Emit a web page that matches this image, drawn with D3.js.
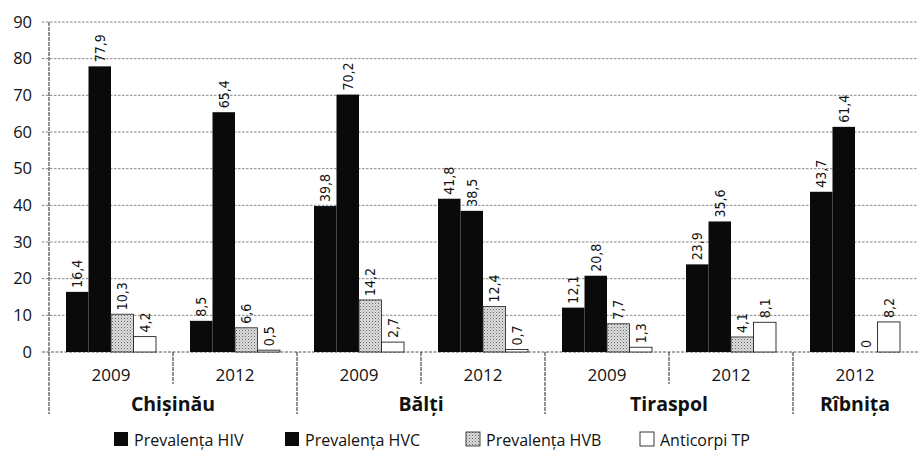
<!DOCTYPE html>
<html>
<head>
<meta charset="utf-8">
<script src="https://cdn.jsdelivr.net/npm/d3@7/dist/d3.min.js"></script>
<style>
  body { margin: 0; background: #fff; }
  svg { display: block; }
</style>
</head>
<body>
<svg id="chart" width="918" height="457"></svg>
<script>
// ---- Data ----
const groupRegion = ["Chișinău", "Chișinău", "Bălți", "Bălți", "Tiraspol", "Tiraspol", "Rîbnița"];
const groupYear = ["2009", "2012", "2009", "2012", "2009", "2012", "2012"];
const regions = ["Chișinău", "Bălți", "Tiraspol", "Rîbnița"];
const seriesNames = ["Prevalența HIV", "Prevalența HVC", "Prevalența HVB", "Anticorpi TP"];
const hiv = [16.4, 8.5, 39.8, 41.8, 12.1, 23.9, 43.7];
const hvc = [77.9, 65.4, 70.2, 38.5, 20.8, 35.6, 61.4];
const hvb = [10.3, 6.6, 14.2, 12.4, 7.7, 4.1, 0];
const tp = [4.2, 0.5, 2.7, 0.7, 1.3, 8.1, 8.2];
const yTicks = [0, 10, 20, 30, 40, 50, 60, 70, 80, 90];

const seriesValues = [hiv, hvc, hvb, tp];

// ---- Layout ----
const svg = d3.select("#chart");
const mLeft = 49, mRight = 917, mTop = 22, mBottom = 352;

const y = d3.scaleLinear().domain([0, 90]).range([mBottom, mTop]);
const gIdx = d3.range(groupYear.length);
const x0 = d3.scaleBand().domain(gIdx).range([mLeft, mRight]).padding(0);
const x1 = d3.scaleBand().domain(d3.range(seriesNames.length)).range([17, x0.bandwidth() - 17]).padding(0);

const defs = svg.append("defs");
const pat = defs.append("pattern").attr("id", "hvbPat")
  .attr("patternUnits", "userSpaceOnUse").attr("width", 3).attr("height", 3);
pat.append("rect").attr("width", 3).attr("height", 3).attr("fill", "#dcdcdc");
pat.append("rect").attr("x", 0).attr("y", 0).attr("width", 1).attr("height", 1).attr("fill", "#666");
pat.append("rect").attr("x", 1.5).attr("y", 1.5).attr("width", 1).attr("height", 1).attr("fill", "#999");

const fills = ["#0a0a0a", "#0a0a0a", "url(#hvbPat)", "#ffffff"];
const strokes = ["#0a0a0a", "#0a0a0a", "#333", "#222"];

const sansFont = "'Open Sans', 'Noto Sans', sans-serif";
const narrowFont = "'Liberation Sans Narrow', 'DejaVu Sans Condensed', 'Roboto', sans-serif";

// ---- Grid ----
svg.append("g").selectAll("line").data(yTicks.filter(d => d > 0)).join("line")
  .attr("x1", 42).attr("x2", 918)
  .attr("y1", d => y(d)).attr("y2", d => y(d))
  .attr("stroke", "#777").attr("stroke-width", 0.9).attr("stroke-dasharray", "2.5,1.5");

// ---- Y axis ----
const yAxis = d3.axisLeft(y).tickValues(yTicks).tickSize(0).tickPadding(17).tickFormat(d3.format("d"));
const yg = svg.append("g").attr("transform", `translate(${mLeft},0)`).call(yAxis);
yg.select(".domain").remove();
yg.selectAll("text").attr("font-family", sansFont).attr("font-size", 16.5).attr("fill", "#111");

// left axis line (extended down)
svg.append("line").attr("x1", mLeft).attr("x2", mLeft).attr("y1", mTop).attr("y2", 414)
  .attr("stroke", "#222").attr("stroke-width", 1).attr("stroke-dasharray", "4,1");

// baseline
svg.append("line").attr("x1", 42).attr("x2", 918).attr("y1", mBottom).attr("y2", mBottom)
  .attr("stroke", "#555").attr("stroke-width", 1).attr("stroke-dasharray", "3,1.5");

// ---- Bars ----
const groups = svg.append("g").selectAll("g").data(gIdx).join("g")
  .attr("transform", i => `translate(${x0(i)},0)`);

groups.selectAll("rect").data(i => seriesValues.map((s, k) => ({ k, v: s[i] }))).join("rect")
  .attr("x", d => x1(d.k))
  .attr("width", x1.bandwidth())
  .attr("y", d => y(d.v))
  .attr("height", d => y(0) - y(d.v))
  .attr("fill", d => fills[d.k])
  .attr("stroke", d => strokes[d.k])
  .attr("stroke-width", d => d.k >= 2 ? 0.9 : 0);

const fmt = v => v === 0 ? "0" : d3.format(".1f")(v).replace(".", ",");
groups.selectAll("text").data(i => seriesValues.map((s, k) => ({ k, v: s[i] }))).join("text")
  .attr("transform", d => `translate(${x1(d.k) + x1.bandwidth() / 2 + 5},${y(d.v) - 4}) rotate(-90)`)
  .attr("font-family", narrowFont).attr("font-size", 14).attr("fill", "#111")
  .text(d => fmt(d.v));

// ---- X axis labels ----
svg.append("g").selectAll("text").data(gIdx).join("text")
  .attr("x", i => x0(i) + x0.bandwidth() / 2).attr("y", 381)
  .attr("text-anchor", "middle")
  .attr("font-family", sansFont).attr("font-size", 17).attr("fill", "#111")
  .text(i => groupYear[i]);

// separators
const sep = [];
for (let i = 1; i < gIdx.length; i++) {
  sep.push({ x: x0(i), region: groupRegion[i] !== groupRegion[i - 1] });
}
svg.append("g").selectAll("line").data(sep).join("line")
  .attr("x1", d => d.x).attr("x2", d => d.x)
  .attr("y1", mBottom).attr("y2", d => d.region ? 414 : 384)
  .attr("stroke", "#222").attr("stroke-width", 1).attr("stroke-dasharray", "4,1");

// region labels
svg.append("g").selectAll("text").data(regions).join("text")
  .attr("x", r => {
    const idx = gIdx.filter(i => groupRegion[i] === r);
    return (x0(idx[0]) + x0(idx[idx.length - 1]) + x0.bandwidth()) / 2;
  })
  .attr("y", 411)
  .attr("text-anchor", "middle")
  .attr("font-family", sansFont).attr("font-weight", "bold").attr("font-size", 19.5).attr("fill", "#111")
  .text(r => r);

// ---- Legend ----
const legendX = [114, 285, 466, 640];
const lg = svg.append("g").selectAll("g").data(seriesNames).join("g")
  .attr("transform", (d, i) => `translate(${legendX[i]},432)`);
lg.append("rect").attr("width", 14).attr("height", 14)
  .attr("fill", (d, i) => fills[i]).attr("stroke", (d, i) => strokes[i]).attr("stroke-width", (d, i) => i >= 2 ? 0.9 : 0);
lg.append("text").attr("x", 20).attr("y", 13.5)
  .attr("font-family", sansFont).attr("font-size", 16).attr("fill", "#111")
  .text(d => d);
</script>
</body>
</html>
